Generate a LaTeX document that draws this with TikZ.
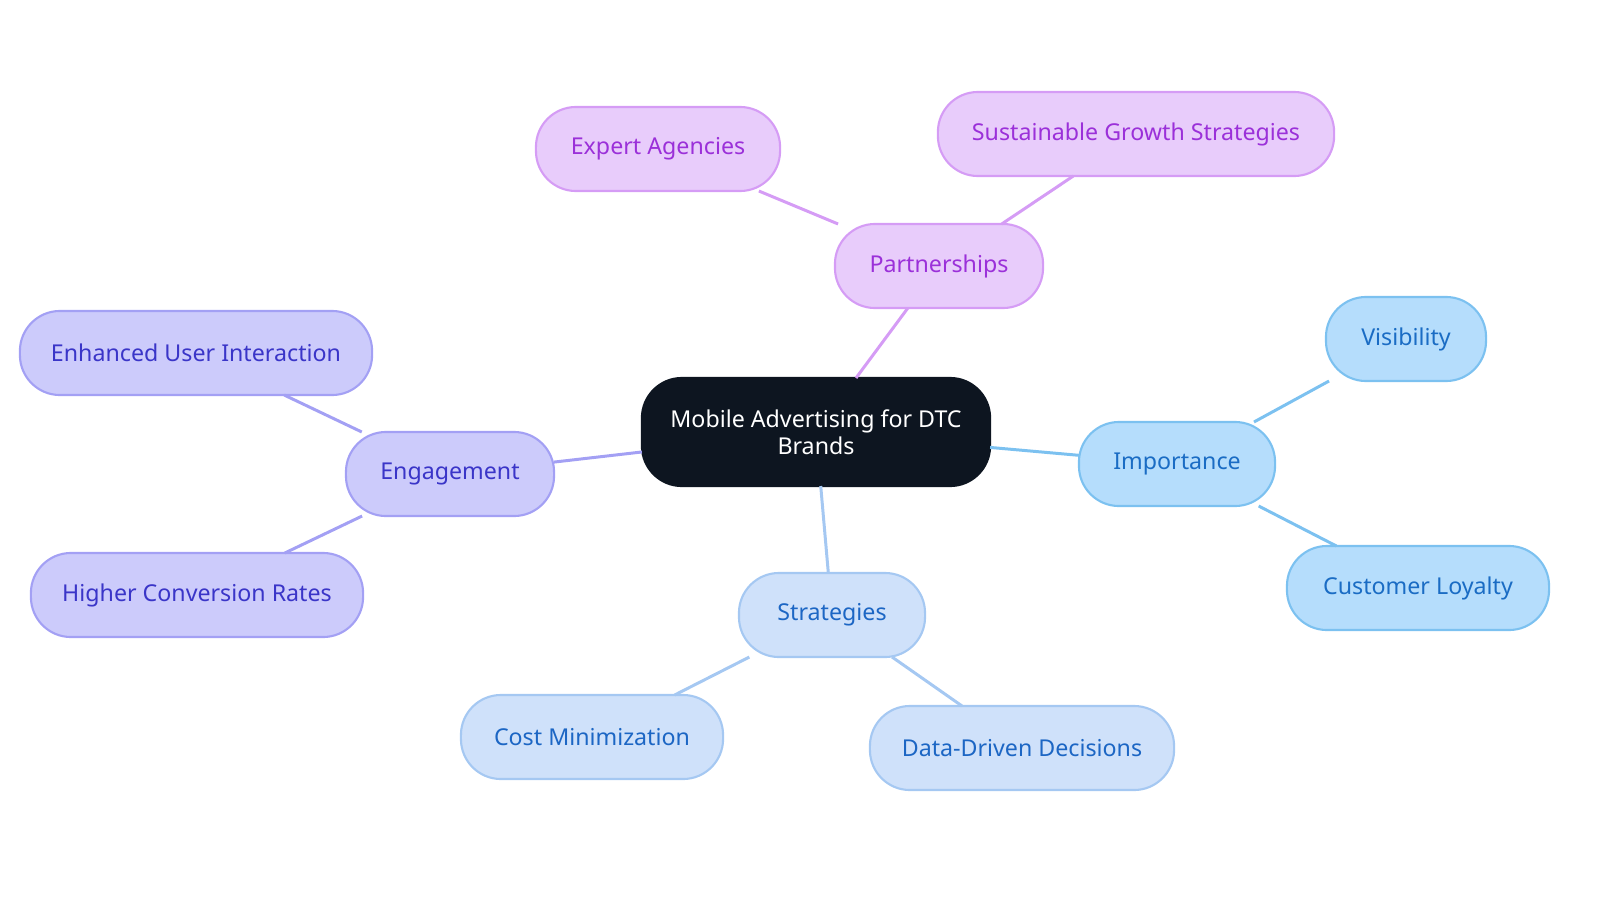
\documentclass[tikz,border=0pt]{standalone}
\usepackage{fontspec}
\setmainfont{Noto Sans}
\usetikzlibrary{positioning}
\definecolor{rootfill}{HTML}{0D1520}
\definecolor{pfill}{HTML}{E8CCFB}\definecolor{pline}{HTML}{D59CF5}\definecolor{ptext}{HTML}{9B30D9}
\definecolor{ifill}{HTML}{B5DDFC}\definecolor{iline}{HTML}{7CC1F0}\definecolor{itext}{HTML}{1A6CC4}
\definecolor{sfill}{HTML}{CFE1FA}\definecolor{sline}{HTML}{A5C8F2}\definecolor{stext}{HTML}{1C66C4}
\definecolor{efill}{HTML}{CCCBFB}\definecolor{eline}{HTML}{A3A0F4}\definecolor{etext}{HTML}{3A35C8}
\tikzset{%
  box/.style={rounded corners=0.4cm, minimum height=0.84cm, inner sep=0pt, outer sep=0pt, align=center,
    font=\fontsize{6.6}{7.6}\selectfont, line width=0.6pt},
  part/.style={box, fill=pfill, draw=pline, text=ptext},
  imp/.style={box, fill=ifill, draw=iline, text=itext},
  strat/.style={box, fill=sfill, draw=sline, text=stext},
  eng/.style={box, fill=efill, draw=eline, text=etext},
  link/.style={line width=0.85pt}
}
\begin{document}
\begin{tikzpicture}[x=0.01cm,y=-0.01cm]
\useasboundingbox (0,0) rectangle (1600,903);
% branches
\node[part, minimum width=2.08cm] (partner) at (939,266) {Partnerships};
\node[part, minimum width=2.44cm] (expert) at (658,149) {Expert Agencies};
\node[part, minimum width=3.96cm] (growth) at (1136,134) {Sustainable Growth Strategies};
\node[imp, minimum width=1.96cm] (importance) at (1177,464) {Importance};
\node[imp, minimum width=1.60cm] (visibility) at (1406,339) {Visibility};
\node[imp, minimum width=2.62cm] (loyalty) at (1418,588) {Customer Loyalty};
\node[strat, minimum width=1.86cm] (strategies) at (832,615) {Strategies};
\node[strat, minimum width=2.62cm] (cost) at (592,737) {Cost Minimization};
\node[strat, minimum width=3.04cm] (data) at (1022,748) {Data-Driven Decisions};
\node[eng, minimum width=2.08cm] (engagement) at (450,474) {Engagement};
\node[eng, minimum width=3.52cm] (enhanced) at (196,353) {Enhanced User Interaction};
\node[eng, minimum width=3.32cm] (higher) at (197,595) {Higher Conversion Rates};
% root
\node[box, fill=rootfill, draw=rootfill, text=white, minimum width=3.48cm, minimum height=1.08cm] (root) at (816,432) {Mobile Advertising for DTC\\Brands};
% links
\draw[link, pline] (root) -- (partner);
\draw[link, pline] (partner) -- (expert);
\draw[link, pline] (partner) -- (growth);
\draw[link, iline] (root) -- (importance);
\draw[link, iline] (importance) -- (visibility);
\draw[link, iline] (importance) -- (loyalty);
\draw[link, sline] (root) -- (strategies);
\draw[link, sline] (strategies) -- (cost);
\draw[link, sline] (strategies) -- (data);
\draw[link, eline] (root) -- (engagement);
\draw[link, eline] (engagement) -- (enhanced);
\draw[link, eline] (engagement) -- (higher);
\end{tikzpicture}
\end{document}
